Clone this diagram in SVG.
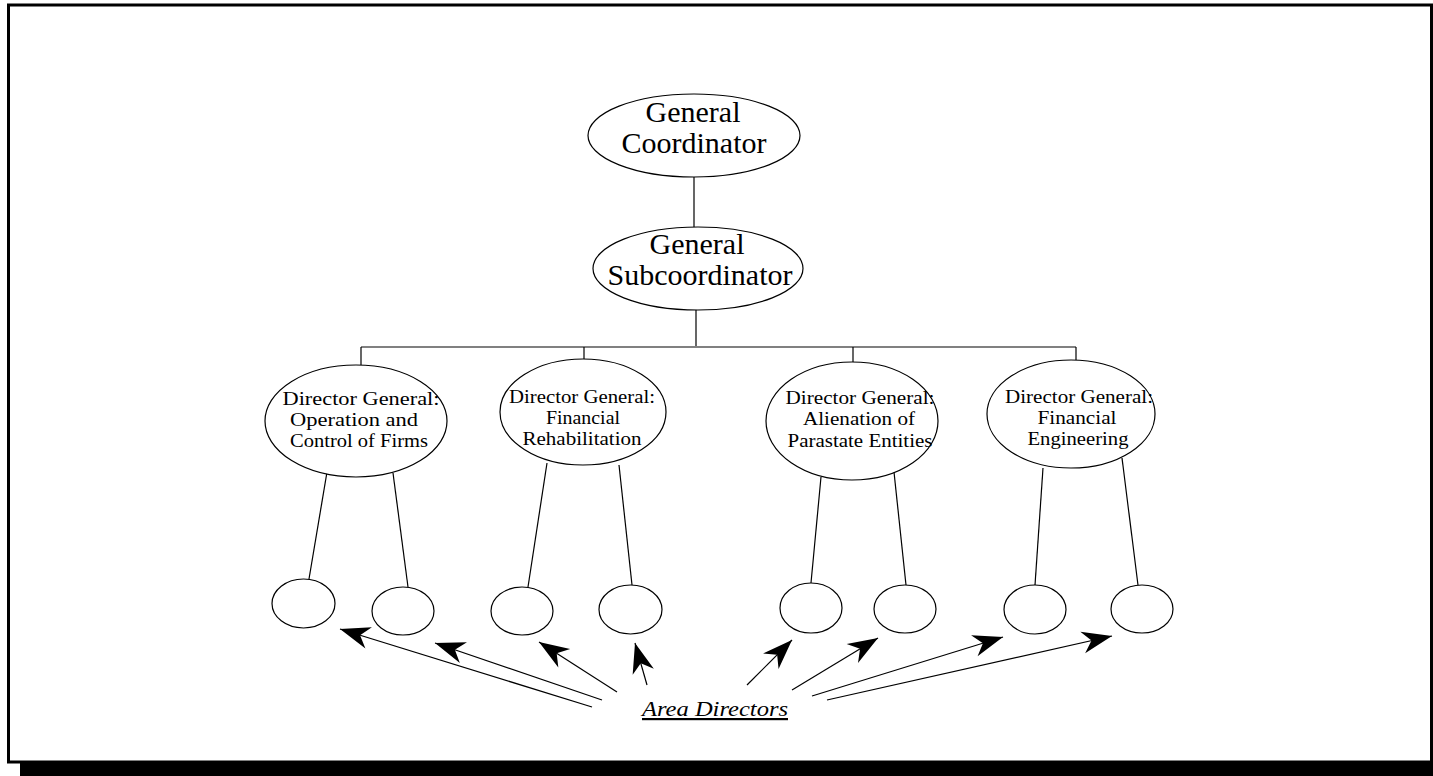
<svg xmlns="http://www.w3.org/2000/svg" width="1433" height="776" viewBox="0 0 1433 776">
<style>
.n{fill:#fff;stroke:#000;stroke-width:1.2}
text{font-family:'Liberation Serif','Times New Roman','DejaVu Serif',serif;fill:#000;text-anchor:middle}
.big{font-size:30px}
.mid{font-size:19px}
.c line{stroke:#000;stroke-width:1.2}
.c .bar{stroke:#808080;stroke-width:2}
.a line{stroke:#000;stroke-width:1.2;marker-end:url(#ah)}
</style>
<defs>
<marker id="ah" markerUnits="userSpaceOnUse" viewBox="-31 -12 32 24" refX="0" refY="0" markerWidth="32" markerHeight="24" orient="auto">
<path d="M0,0 L-30,-11 L-21,0 L-30,11 Z" fill="#000"/>
</marker>
</defs>
<rect x="0" y="0" width="1433" height="776" fill="#fff"/>
<g id="frame">
<rect x="8.5" y="5" width="1423" height="757" fill="none" stroke="#000" stroke-width="3"/>
<rect x="20" y="762" width="1413" height="14" fill="#000"/>
</g>
<g class="c" id="connectors">
<line x1="694" y1="177" x2="694" y2="227"/>
<line x1="696" y1="310" x2="696" y2="347"/>
<line class="bar" x1="361" y1="347" x2="1076" y2="347"/>
<line x1="361" y1="347" x2="361" y2="365"/>
<line x1="584" y1="347" x2="584" y2="359"/>
<line x1="853" y1="347" x2="853" y2="362"/>
<line x1="1076" y1="347" x2="1076" y2="360"/>
<line x1="327" y1="472" x2="309" y2="579"/>
<line x1="393" y1="473" x2="408" y2="587"/>
<line x1="547" y1="463" x2="528" y2="587"/>
<line x1="619" y1="465" x2="632" y2="585"/>
<line x1="821" y1="477" x2="811" y2="583"/>
<line x1="894" y1="472" x2="906" y2="585"/>
<line x1="1043" y1="468" x2="1035" y2="585"/>
<line x1="1122" y1="458" x2="1138" y2="585"/>
</g>
<g id="gc">
<ellipse class="n" cx="694" cy="135.5" rx="106" ry="41.5"/>
<text class="big" x="693" y="122">General</text>
<text class="big" x="694" y="153">Coordinator</text>
</g>
<g id="gs">
<ellipse class="n" cx="698" cy="268.5" rx="105" ry="41.5"/>
<text class="big" x="697" y="254">General</text>
<text class="big" x="700" y="285">Subcoordinator</text>
</g>
<g id="dg1">
<ellipse class="n" cx="356" cy="421" rx="91" ry="56"/>
<text class="mid" x="361" y="405" textLength="157" lengthAdjust="spacingAndGlyphs">Director General:</text>
<text class="mid" x="354" y="426" textLength="128" lengthAdjust="spacingAndGlyphs">Operation and</text>
<text class="mid" x="359" y="447" textLength="138" lengthAdjust="spacingAndGlyphs">Control of Firms</text>
</g>
<g id="dg2">
<ellipse class="n" cx="583" cy="412" rx="83" ry="53"/>
<text class="mid" x="582" y="403" textLength="146" lengthAdjust="spacingAndGlyphs">Director General:</text>
<text class="mid" x="583" y="424" textLength="74" lengthAdjust="spacingAndGlyphs">Financial</text>
<text class="mid" x="582" y="445" textLength="119" lengthAdjust="spacingAndGlyphs">Rehabilitation</text>
</g>
<g id="dg3">
<ellipse class="n" cx="852" cy="421" rx="86" ry="59"/>
<text class="mid" x="860" y="404" textLength="149" lengthAdjust="spacingAndGlyphs">Director General:</text>
<text class="mid" x="859" y="425" textLength="112" lengthAdjust="spacingAndGlyphs">Alienation of</text>
<text class="mid" x="860" y="447" textLength="145" lengthAdjust="spacingAndGlyphs">Parastate Entities</text>
</g>
<g id="dg4">
<ellipse class="n" cx="1071" cy="414" rx="84" ry="54"/>
<text class="mid" x="1079" y="403" textLength="148" lengthAdjust="spacingAndGlyphs">Director General:</text>
<text class="mid" x="1077" y="424" textLength="79" lengthAdjust="spacingAndGlyphs">Financial</text>
<text class="mid" x="1078" y="445" textLength="101" lengthAdjust="spacingAndGlyphs">Engineering</text>
</g>
<g id="ad1"><ellipse class="n" cx="303.5" cy="603.5" rx="31.5" ry="24.5"/></g>
<g id="ad2"><ellipse class="n" cx="403" cy="611" rx="31" ry="24"/></g>
<g id="ad3"><ellipse class="n" cx="522" cy="611" rx="31" ry="24"/></g>
<g id="ad4"><ellipse class="n" cx="630.5" cy="609.5" rx="31.5" ry="24.5"/></g>
<g id="ad5"><ellipse class="n" cx="811" cy="608" rx="31" ry="25"/></g>
<g id="ad6"><ellipse class="n" cx="905" cy="609" rx="31" ry="24"/></g>
<g id="ad7"><ellipse class="n" cx="1035" cy="609.5" rx="31" ry="24.5"/></g>
<g id="ad8"><ellipse class="n" cx="1142" cy="609" rx="31" ry="24"/></g>
<g class="a" id="arrows">
<line x1="592" y1="707" x2="340" y2="629"/>
<line x1="602" y1="700" x2="435" y2="643"/>
<line x1="617" y1="692" x2="539" y2="642"/>
<line x1="647" y1="685" x2="635" y2="643"/>
<line x1="747" y1="685" x2="792" y2="640"/>
<line x1="792" y1="690" x2="878" y2="638"/>
<line x1="812" y1="696" x2="1003" y2="637"/>
<line x1="827" y1="700" x2="1112" y2="636"/>
</g>
<g id="label">
<text x="715" y="716" font-size="22" font-style="italic" text-decoration="underline" textLength="146" lengthAdjust="spacingAndGlyphs">Area Directors</text>
</g>
</svg>
